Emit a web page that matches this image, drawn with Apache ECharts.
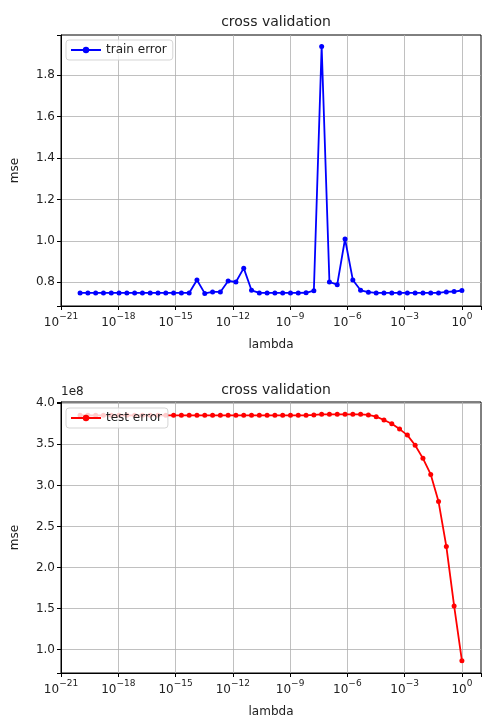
<!DOCTYPE html>
<html>
<head>
<meta charset="utf-8">
<script src="https://cdn.jsdelivr.net/npm/echarts@6/dist/echarts.min.js"></script>
<style>
html, body { margin: 0; padding: 0; background: #fff; }
#main { width: 504px; height: 724px; }
</style>
</head>
<body>
<div id="main"></div>
<script>
// lambda as log10 exponents (50 points, 1e-20 .. 1e0)
var lambdaExp = [
    -20, -19.592, -19.184, -18.776, -18.367, -17.959, -17.551, -17.143, -16.735, -16.327,
    -15.918, -15.510, -15.102, -14.694, -14.286, -13.878, -13.469, -13.061, -12.653, -12.245,
    -11.837, -11.429, -11.020, -10.612, -10.204, -9.796, -9.388, -8.980, -8.571, -8.163,
    -7.755, -7.347, -6.939, -6.531, -6.122, -5.714, -5.306, -4.898, -4.490, -4.082,
    -3.673, -3.265, -2.857, -2.449, -2.041, -1.633, -1.224, -0.816, -0.408, 0
];
var trainErr = [
    0.748, 0.748, 0.748, 0.748, 0.748, 0.748, 0.748, 0.748, 0.748, 0.748,
    0.748, 0.748, 0.748, 0.748, 0.748, 0.811, 0.746, 0.753, 0.753, 0.806,
    0.801, 0.868, 0.761, 0.748, 0.748, 0.748, 0.748, 0.748, 0.748, 0.749,
    0.759, 1.940, 0.801, 0.788, 1.009, 0.811, 0.761, 0.752, 0.748, 0.748,
    0.748, 0.748, 0.748, 0.748, 0.748, 0.748, 0.748, 0.753, 0.755, 0.760
];
var testErr = [
    3.854e8, 3.854e8, 3.854e8, 3.854e8, 3.854e8, 3.854e8, 3.854e8, 3.854e8, 3.854e8, 3.854e8,
    3.854e8, 3.854e8, 3.854e8, 3.854e8, 3.854e8, 3.854e8, 3.854e8, 3.854e8, 3.854e8, 3.854e8,
    3.854e8, 3.854e8, 3.854e8, 3.854e8, 3.854e8, 3.854e8, 3.854e8, 3.854e8, 3.854e8, 3.854e8,
    3.858e8, 3.866e8, 3.866e8, 3.866e8, 3.866e8, 3.866e8, 3.866e8, 3.858e8, 3.837e8, 3.797e8,
    3.751e8, 3.686e8, 3.613e8, 3.490e8, 3.330e8, 3.134e8, 2.803e8, 2.257e8, 1.532e8, 0.866e8
];

var FONT = 'DejaVu Sans';
var myChart = echarts.init(document.getElementById('main'));

function pairs(ys) {
    return lambdaExp.map(function (e, i) { return [e, ys[i]]; });
}

function expLabel(v) {
    if (Math.abs(v % 3) > 1e-9) return '';
    return '{b|10}{s|' + (v < 0 ? '\u2212' : '') + Math.abs(v) + '}';
}

function xAxisOpt(gi) {
    return {
        type: 'value', gridIndex: gi, min: -21, max: 1, interval: 3,
        name: 'lambda', nameLocation: 'middle', nameGap: 33,
        nameTextStyle: { fontFamily: FONT, fontSize: 12, color: '#222' },
        axisLine: { show: true, onZero: false, lineStyle: { color: '#000', width: 1 } },
        axisTick: { show: true, length: 4, lineStyle: { color: '#000' } },
        axisLabel: {
            formatter: expLabel, margin: 6,
            rich: {
                b: { fontFamily: FONT, fontSize: 12, color: '#222', verticalAlign: 'bottom', lineHeight: 17 },
                s: { fontFamily: FONT, fontSize: 9, color: '#222', verticalAlign: 'top', lineHeight: 17 }
            }
        },
        splitLine: { show: true, showMinLine: false, showMaxLine: false, lineStyle: { color: '#b0b0b0', width: 0.8 } }
    };
}

function yAxisOpt(gi, min, max, fmt) {
    return {
        type: 'value', gridIndex: gi, min: min, max: max, splitNumber: 7,
        name: 'mse', nameLocation: 'middle', nameGap: 40,
        nameTextStyle: { fontFamily: FONT, fontSize: 12, color: '#222' },
        axisLine: { show: true, onZero: false, lineStyle: { color: '#000', width: 1 } },
        axisTick: { show: true, length: 4, lineStyle: { color: '#000' } },
        axisLabel: { formatter: fmt, fontFamily: FONT, fontSize: 12, color: '#222', margin: 6 },
        splitLine: { show: true, showMinLine: false, showMaxLine: false, lineStyle: { color: '#b0b0b0', width: 0.8 } }
    };
}

function legendOpt(name, top) {
    return {
        data: [name], left: 66, top: top, orient: 'vertical',
        backgroundColor: 'rgba(255,255,255,0.8)', borderColor: '#d5d5d5', borderWidth: 1, borderRadius: 3,
        padding: [4, 6, 4, 4], itemWidth: 30, itemHeight: 8, itemGap: 4,
        textStyle: { fontFamily: FONT, fontSize: 12, color: '#222' }
    };
}

var option = {
    animation: false,
    title: [
        { text: 'cross validation', left: 271, top: 10, textAlign: 'center',
          textStyle: { fontFamily: FONT, fontSize: 14, fontWeight: 'normal', color: '#222' } },
        { text: 'cross validation', left: 271, top: 378, textAlign: 'center',
          textStyle: { fontFamily: FONT, fontSize: 14, fontWeight: 'normal', color: '#222' } }
    ],
    legend: [legendOpt('train error', 40), legendOpt('test error', 408)],
    grid: [
        { left: 61, right: 23, top: 35, height: 271, show: true, borderColor: '#000', borderWidth: 1 },
        { left: 61, right: 23, top: 402, height: 271, show: true, borderColor: '#000', borderWidth: 1 }
    ],
    xAxis: [xAxisOpt(0), xAxisOpt(1)],
    yAxis: [
        yAxisOpt(0, 0.685, 1.995, function (v) {
            return Math.abs(v * 5 - Math.round(v * 5)) < 1e-6 ? v.toFixed(1) : '';
        }),
        yAxisOpt(1, 0.716e8, 4.016e8, function (v) {
            var t = v / 1e8;
            return Math.abs(t * 2 - Math.round(t * 2)) < 1e-6 ? t.toFixed(1) : '';
        })
    ],
    graphic: [
        { type: 'text', left: 61, top: 386,
          style: { text: '1e8', fontFamily: FONT, fontSize: 12, fill: '#222' } }
    ],
    series: [
        {
            name: 'train error', type: 'line', xAxisIndex: 0, yAxisIndex: 0,
            data: pairs(trainErr), symbol: 'circle', symbolSize: 5,
            lineStyle: { color: '#0000ff', width: 1.8 }, itemStyle: { color: '#0000ff' }
        },
        {
            name: 'test error', type: 'line', xAxisIndex: 1, yAxisIndex: 1,
            data: pairs(testErr), symbol: 'circle', symbolSize: 5,
            lineStyle: { color: '#ff0000', width: 1.8 }, itemStyle: { color: '#ff0000' }
        }
    ]
};

myChart.setOption(option);
</script>
</body>
</html>
